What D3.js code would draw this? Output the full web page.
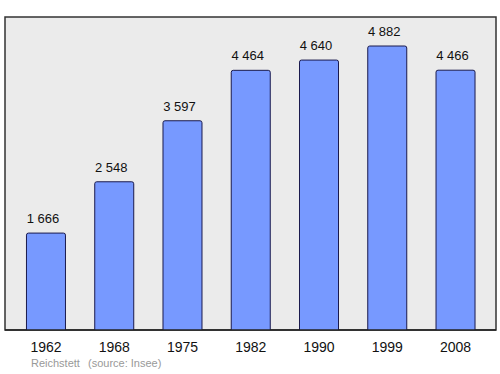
<!DOCTYPE html>
<html><head><meta charset="utf-8">
<script src="https://cdn.jsdelivr.net/npm/d3@7"></script>
<style>body{margin:0;background:#fff}svg{display:block}</style>
</head><body>
<script>
const years = ["1962","1968","1975","1982","1990","1999","2008"];
const population = [1666, 2548, 3597, 4464, 4640, 4882, 4466];
const caption = ["Reichstett", "(source: Insee)"];

const W = 500, H = 374;
const frame = {x0: 5, y0: 17, x1: 496, y1: 330};
const svg = d3.select("body").append("svg").attr("width", W).attr("height", H);

svg.append("rect").attr("x", frame.x0).attr("y", frame.y0)
  .attr("width", frame.x1 - frame.x0).attr("height", frame.y1 - frame.y0)
  .attr("fill", "#ebebeb").attr("stroke", "#333").attr("stroke-width", 1.5);

svg.append("clipPath").attr("id", "plotclip").append("rect")
  .attr("x", frame.x0).attr("y", frame.y0).attr("width", frame.x1 - frame.x0).attr("height", frame.y1 - frame.y0);

const x = d3.scaleBand().domain(years).range([6, 495.5]).paddingInner(0.4286).paddingOuter(0.3);
const y = d3.scaleLinear().domain([0, 4882]).range([frame.y1, 46]);

const fmt = v => d3.format(",")(v).replace(/,/g, " ");

svg.append("g").attr("clip-path", "url(#plotclip)")
  .selectAll("rect.bar").data(years).enter().append("rect").attr("class","bar")
  .attr("x", d => x(d)).attr("width", x.bandwidth())
  .attr("y", (d,i) => y(population[i]))
  .attr("height", (d,i) => y(0) - y(population[i]) + 4)
  .attr("rx", 2)
  .attr("fill", "#7799ff").attr("stroke", "#1a1a4d").attr("stroke-width", 1);

svg.selectAll("text.val").data(years).enter().append("text").attr("class","val")
  .attr("x", d => x(d) + x.bandwidth()/2 - 3)
  .attr("y", (d,i) => y(population[i]) - 10)
  .attr("text-anchor", "middle")
  .attr("font-family", "Liberation Sans, Arial, sans-serif").attr("font-size", 13)
  .attr("fill", "#111")
  .text((d,i) => fmt(population[i]));

svg.append("line").attr("x1", frame.x0).attr("x2", frame.x1).attr("y1", frame.y1).attr("y2", frame.y1)
  .attr("stroke", "#222").attr("stroke-width", 1.5);

const xAxis = d3.axisBottom(x).tickSize(0).tickPadding(0);
const ax = svg.append("g").attr("transform", `translate(0,${frame.y1})`).call(xAxis);
ax.select(".domain").remove();
ax.selectAll("text").attr("dy", null).attr("y", 22)
  .attr("font-family", "Liberation Sans, Arial, sans-serif").attr("font-size", 14)
  .attr("fill", "#111");

svg.append("text").attr("x", 31).attr("y", 367)
  .attr("font-family", "Liberation Sans, Arial, sans-serif").attr("font-size", 11)
  .attr("fill", "#999").text(caption[0]);
svg.append("text").attr("x", 88).attr("y", 367)
  .attr("font-family", "Liberation Sans, Arial, sans-serif").attr("font-size", 11)
  .attr("fill", "#999").text(caption[1]);
</script>
</body></html>
